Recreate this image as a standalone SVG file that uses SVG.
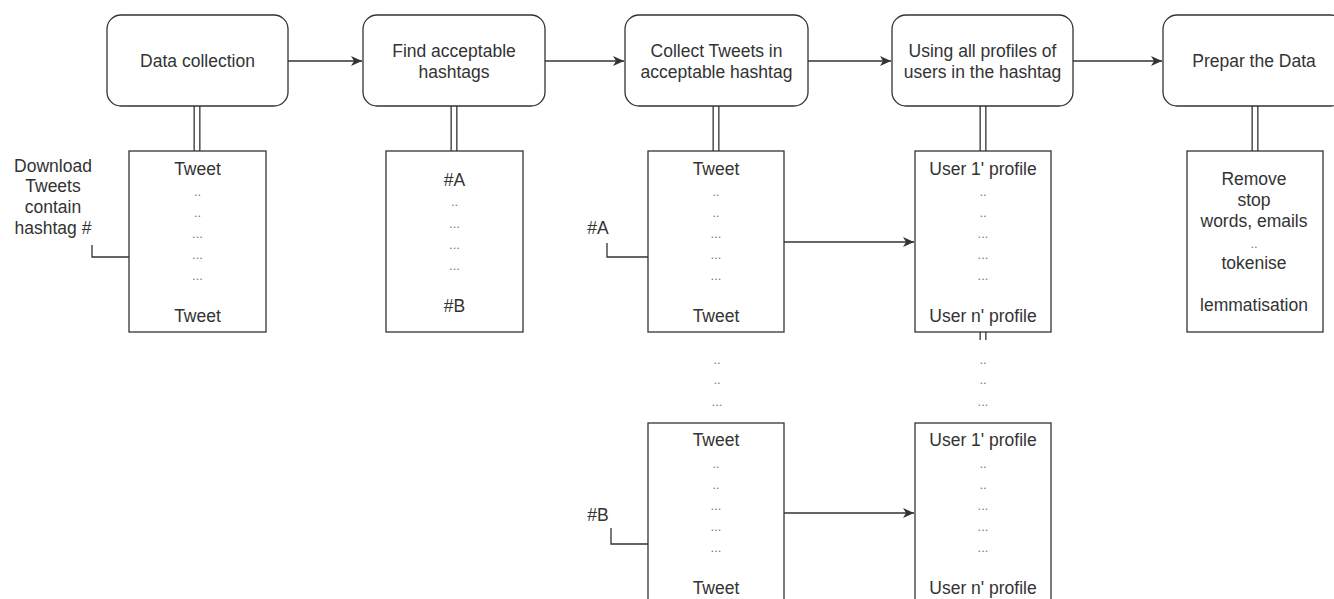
<svg xmlns="http://www.w3.org/2000/svg" width="1334" height="599" viewBox="0 0 1334 599">
  <style>
    .step { fill: #ffffff; stroke: #333333; stroke-width: 1.3; }
    .list { fill: #ffffff; stroke: #333333; stroke-width: 1.3; }
    .t { font-family: "Liberation Sans", Arial, sans-serif; font-size: 17.5px; fill: #333333; text-anchor: middle; }
    .d { font-family: "Liberation Sans", Arial, sans-serif; font-size: 13px; fill: #777777; text-anchor: middle; }
    .edge { fill: none; stroke: #333333; stroke-width: 1.3; }
    .link-out { fill: none; stroke: #333333; stroke-width: 7; }
    .link-in { fill: none; stroke: #ffffff; stroke-width: 4.4; }
  </style>
  <defs>
    <marker id="arrow" markerUnits="userSpaceOnUse" markerWidth="12" markerHeight="10" refX="11" refY="5" orient="auto">
      <path d="M0,0 L11,5 L0,10 L3,5 Z" fill="#333333"/>
    </marker>
  </defs>
  <rect width="1334" height="599" fill="#ffffff"/>

  <!-- connectors -->
  <g id="connectors">
    <!-- flow between steps -->
    <path class="edge" d="M288,61 H362" marker-end="url(#arrow)"/>
    <path class="edge" d="M545,61 H624" marker-end="url(#arrow)"/>
    <path class="edge" d="M808,61 H891" marker-end="url(#arrow)"/>
    <path class="edge" d="M1073,61 H1162" marker-end="url(#arrow)"/>
    <!-- tweets to profiles -->
    <path class="edge" d="M784,242 H914" marker-end="url(#arrow)"/>
    <path class="edge" d="M784,513 H914" marker-end="url(#arrow)"/>
    <!-- double links from steps to their lists -->
    <g>
      <path class="link-out" d="M197,106 V151 M454,106 V151 M716,106 V151 M983,106 V151 M1255,106 V151 M983,332 V340"/>
      <path class="link-in" d="M197,106 V151 M454,106 V151 M716,106 V151 M983,106 V151 M1255,106 V151 M983,331 V341"/>
    </g>
    <!-- label callouts -->
    <path class="edge" d="M92,245 V257 H129"/>
    <path class="edge" d="M607,243 V257 H648"/>
    <path class="edge" d="M611,528 V544 H648"/>
  </g>

  <!-- steps -->
  <g id="step-data-collection">
    <rect class="step" x="107" y="15" width="181" height="91" rx="14"/>
    <text class="t" x="197.5" y="67">Data collection</text>
  </g>
  <g id="step-find-hashtags">
    <rect class="step" x="363" y="15" width="182" height="91" rx="14"/>
    <text class="t" x="454" y="57">Find acceptable</text>
    <text class="t" x="454" y="78">hashtags</text>
  </g>
  <g id="step-collect-tweets">
    <rect class="step" x="625" y="15" width="183" height="91" rx="14"/>
    <text class="t" x="716.5" y="57">Collect Tweets in</text>
    <text class="t" x="716.5" y="78">acceptable hashtag</text>
  </g>
  <g id="step-user-profiles">
    <rect class="step" x="892" y="15" width="181" height="91" rx="14"/>
    <text class="t" x="982.5" y="57">Using all profiles of</text>
    <text class="t" x="982.5" y="78">users in the hashtag</text>
  </g>
  <g id="step-prepare">
    <rect class="step" x="1163" y="15" width="182" height="91" rx="14"/>
    <text class="t" x="1254" y="67">Prepar the Data</text>
  </g>

  <!-- lists -->
  <g id="list-downloaded-tweets">
    <rect class="list" x="129" y="151" width="137" height="181"/>
    <text class="t" x="197.5" y="175">Tweet</text>
    <text class="d" x="197.5" y="196">..</text>
    <text class="d" x="197.5" y="217">..</text>
    <text class="d" x="197.5" y="238">...</text>
    <text class="d" x="197.5" y="259">...</text>
    <text class="d" x="197.5" y="280">...</text>
    <text class="t" x="197.5" y="322">Tweet</text>
  </g>
  <g id="list-hashtags">
    <rect class="list" x="386" y="151" width="137" height="181"/>
    <text class="t" x="454.5" y="186">#A</text>
    <text class="d" x="454.5" y="206">..</text>
    <text class="d" x="454.5" y="228">...</text>
    <text class="d" x="454.5" y="249">...</text>
    <text class="d" x="454.5" y="270">...</text>
    <text class="t" x="454.5" y="312">#B</text>
  </g>
  <g id="list-tweets-a">
    <rect class="list" x="648" y="151" width="136" height="181"/>
    <text class="t" x="716" y="175">Tweet</text>
    <text class="d" x="716" y="196">..</text>
    <text class="d" x="716" y="217">..</text>
    <text class="d" x="716" y="238">...</text>
    <text class="d" x="716" y="259">...</text>
    <text class="d" x="716" y="280">...</text>
    <text class="t" x="716" y="322">Tweet</text>
  </g>
  <g id="list-profiles-a">
    <rect class="list" x="915" y="151" width="136" height="181"/>
    <text class="t" x="983" y="175">User 1' profile</text>
    <text class="d" x="983" y="196">..</text>
    <text class="d" x="983" y="217">..</text>
    <text class="d" x="983" y="238">...</text>
    <text class="d" x="983" y="259">...</text>
    <text class="d" x="983" y="280">...</text>
    <text class="t" x="983" y="322">User n' profile</text>
  </g>
  <g id="list-prepare">
    <rect class="list" x="1187" y="151" width="136" height="181"/>
    <text class="t" x="1254" y="185">Remove</text>
    <text class="t" x="1254" y="206">stop</text>
    <text class="t" x="1254" y="227">words, emails</text>
    <text class="d" x="1254" y="248">..</text>
    <text class="t" x="1254" y="269">tokenise</text>
    <text class="t" x="1254" y="311">lemmatisation</text>
  </g>

  <!-- continuation dots -->
  <g id="gap-dots">
    <text class="d" x="717" y="364">..</text>
    <text class="d" x="717" y="384">..</text>
    <text class="d" x="717" y="406">...</text>
    <text class="d" x="983" y="364">..</text>
    <text class="d" x="983" y="384">..</text>
    <text class="d" x="983" y="406">...</text>
  </g>

  <g id="list-tweets-b">
    <rect class="list" x="648" y="423" width="136" height="181"/>
    <text class="t" x="716" y="446">Tweet</text>
    <text class="d" x="716" y="468">..</text>
    <text class="d" x="716" y="489">..</text>
    <text class="d" x="716" y="510">...</text>
    <text class="d" x="716" y="531">...</text>
    <text class="d" x="716" y="552">...</text>
    <text class="t" x="716" y="594">Tweet</text>
  </g>
  <g id="list-profiles-b">
    <rect class="list" x="915" y="423" width="136" height="181"/>
    <text class="t" x="983" y="446">User 1' profile</text>
    <text class="d" x="983" y="468">..</text>
    <text class="d" x="983" y="489">..</text>
    <text class="d" x="983" y="510">...</text>
    <text class="d" x="983" y="531">...</text>
    <text class="d" x="983" y="552">...</text>
    <text class="t" x="983" y="594">User n' profile</text>
  </g>

  <!-- labels -->
  <g id="label-download">
    <text class="t" x="53" y="172">Download</text>
    <text class="t" x="53" y="192">Tweets</text>
    <text class="t" x="53" y="213">contain</text>
    <text class="t" x="53" y="234">hashtag #</text>
  </g>
  <g id="label-a">
    <text class="t" x="598" y="234">#A</text>
  </g>
  <g id="label-b">
    <text class="t" x="598" y="521">#B</text>
  </g>
</svg>
